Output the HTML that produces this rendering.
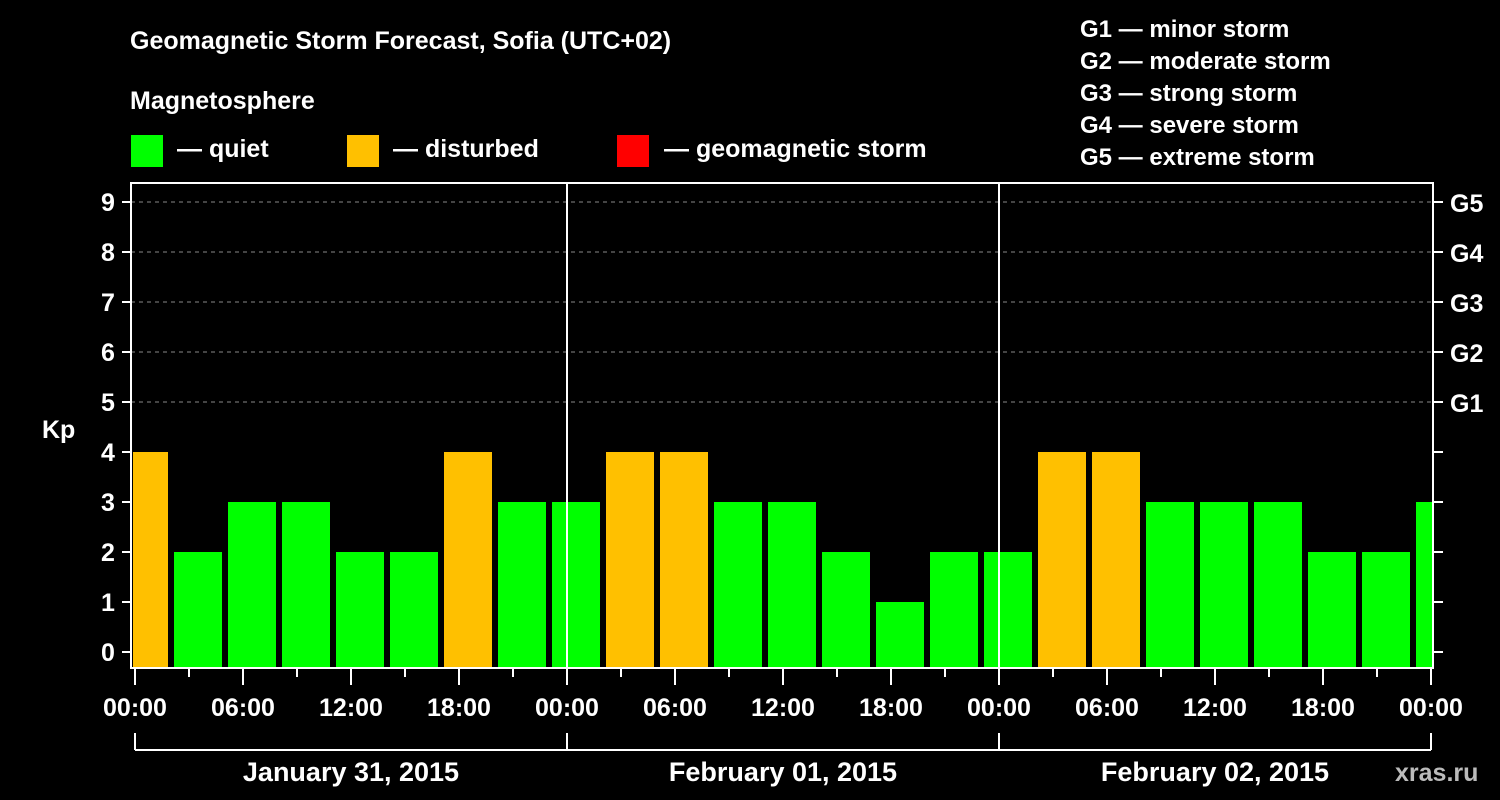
<!DOCTYPE html>
<html><head><meta charset="utf-8"><style>
body{margin:0;background:#000;width:1500px;height:800px;overflow:hidden}
svg{display:block;font-family:"Liberation Sans",Arial,sans-serif;font-weight:bold;fill:#fff}
</style></head><body>
<svg id="chart" width="1500" height="800" viewBox="0 0 1500 800">
<text x="130" y="49" font-size="25">Geomagnetic Storm Forecast, Sofia (UTC+02)</text>
<text x="130" y="109" font-size="25">Magnetosphere</text>
<g font-size="25">
<rect x="131" y="135" width="32" height="32" fill="#00ff00"/><text x="177" y="157">— quiet</text>
<rect x="347" y="135" width="32" height="32" fill="#ffc000"/><text x="393" y="157">— disturbed</text>
<rect x="617" y="135" width="32" height="32" fill="#ff0000"/><text x="664" y="157">— geomagnetic storm</text>
</g>
<g font-size="24">
<text x="1080" y="37">G1 — minor storm</text>
<text x="1080" y="69">G2 — moderate storm</text>
<text x="1080" y="101">G3 — strong storm</text>
<text x="1080" y="133">G4 — severe storm</text>
<text x="1080" y="165">G5 — extreme storm</text>
</g>
<text x="42" y="438" font-size="25">Kp</text>
<text x="1395" y="781" font-size="25" fill="#bbb">xras.ru</text>
<defs><clipPath id="pc"><rect x="133" y="183" width="1299" height="485"/></clipPath></defs>
<g id="grid"></g><g id="bars" clip-path="url(#pc)"></g><g id="axes"></g>
</svg>
<script>
const kpValues=[4,2,3,3,2,2,4,3, 3,4,4,3,3,2,1,2, 2,4,4,3,3,3,2,2,3];
const yTicks=[0,1,2,3,4,5,6,7,8,9];
const gLabels=["G1","G2","G3","G4","G5"];
const xTickLabels=["00:00","06:00","12:00","18:00","00:00","06:00","12:00","18:00","00:00","06:00","12:00","18:00","00:00"];
const dayLabels=["January 31, 2015","February 01, 2015","February 02, 2015"];
const NS="http://www.w3.org/2000/svg";
const x0=135,pxPerHour=18,yBase=652,pxPerKp=50,frameB=668,frameT=183,frameL=131,frameR=1433;
const xs=h=>x0+h*pxPerHour, ys=v=>yBase-v*pxPerKp;
function mk(tag,attrs,parent){const e=document.createElementNS(NS,tag);for(const k in attrs)e.setAttribute(k,attrs[k]);parent.appendChild(e);return e;}
const grid=document.getElementById('grid'),bars=document.getElementById('bars'),axes=document.getElementById('axes');
for(let v=5;v<=9;v++){const l=mk('line',{x1:frameL,x2:frameR,y1:ys(v),y2:ys(v),stroke:'#888','stroke-dasharray':'4,4','stroke-width':1},grid);

}
kpValues.forEach((v,i)=>{const c=xs(i*3+0.5);
const r=mk('rect',{x:c-24,y:ys(v),width:48,height:frameB-ys(v),fill:v>=5?'#ff0000':(v>=4?'#ffc000':'#00ff00')},bars);

});
[1,2].forEach(d=>{const l=mk('line',{x1:xs(d*24),x2:xs(d*24),y1:frameT,y2:frameB,stroke:'#fff','stroke-width':2},axes);

});
const f=mk('rect',{x:frameL,y:frameT,width:frameR-frameL,height:frameB-frameT,fill:'none',stroke:'#fff','stroke-width':2},axes);


yTicks.forEach(v=>{mk('line',{x1:122,x2:frameL,y1:ys(v),y2:ys(v),stroke:'#fff','stroke-width':2},axes);
mk('line',{x1:frameR,x2:1443,y1:ys(v),y2:ys(v),stroke:'#fff','stroke-width':2},axes);
const t=mk('text',{x:108,y:ys(v)+9,'font-size':25,'text-anchor':'middle'},axes);t.textContent=v;

});
gLabels.forEach((g,i)=>{const t=mk('text',{x:1450,y:ys(i+5)+10,'font-size':25},axes);t.textContent=g;

});
for(let h=0;h<=72;h+=3){const long=h%6===0;mk('line',{x1:xs(h),x2:xs(h),y1:frameB,y2:long?685:677,stroke:'#fff','stroke-width':2},axes);}
xTickLabels.forEach((s,i)=>{const t=mk('text',{x:xs(i*6),y:716,'font-size':25,'text-anchor':'middle'},axes);t.textContent=s;

});
mk('line',{x1:xs(0),x2:xs(72),y1:750,y2:750,stroke:'#fff','stroke-width':2},axes);
for(let d=0;d<=3;d++)mk('line',{x1:xs(d*24),x2:xs(d*24),y1:733,y2:750,stroke:'#fff','stroke-width':2},axes);
dayLabels.forEach((s,i)=>{const t=mk('text',{x:xs(i*24+12),y:781,'font-size':27,'text-anchor':'middle'},axes);t.textContent=s;

});
</script>
</body></html>
